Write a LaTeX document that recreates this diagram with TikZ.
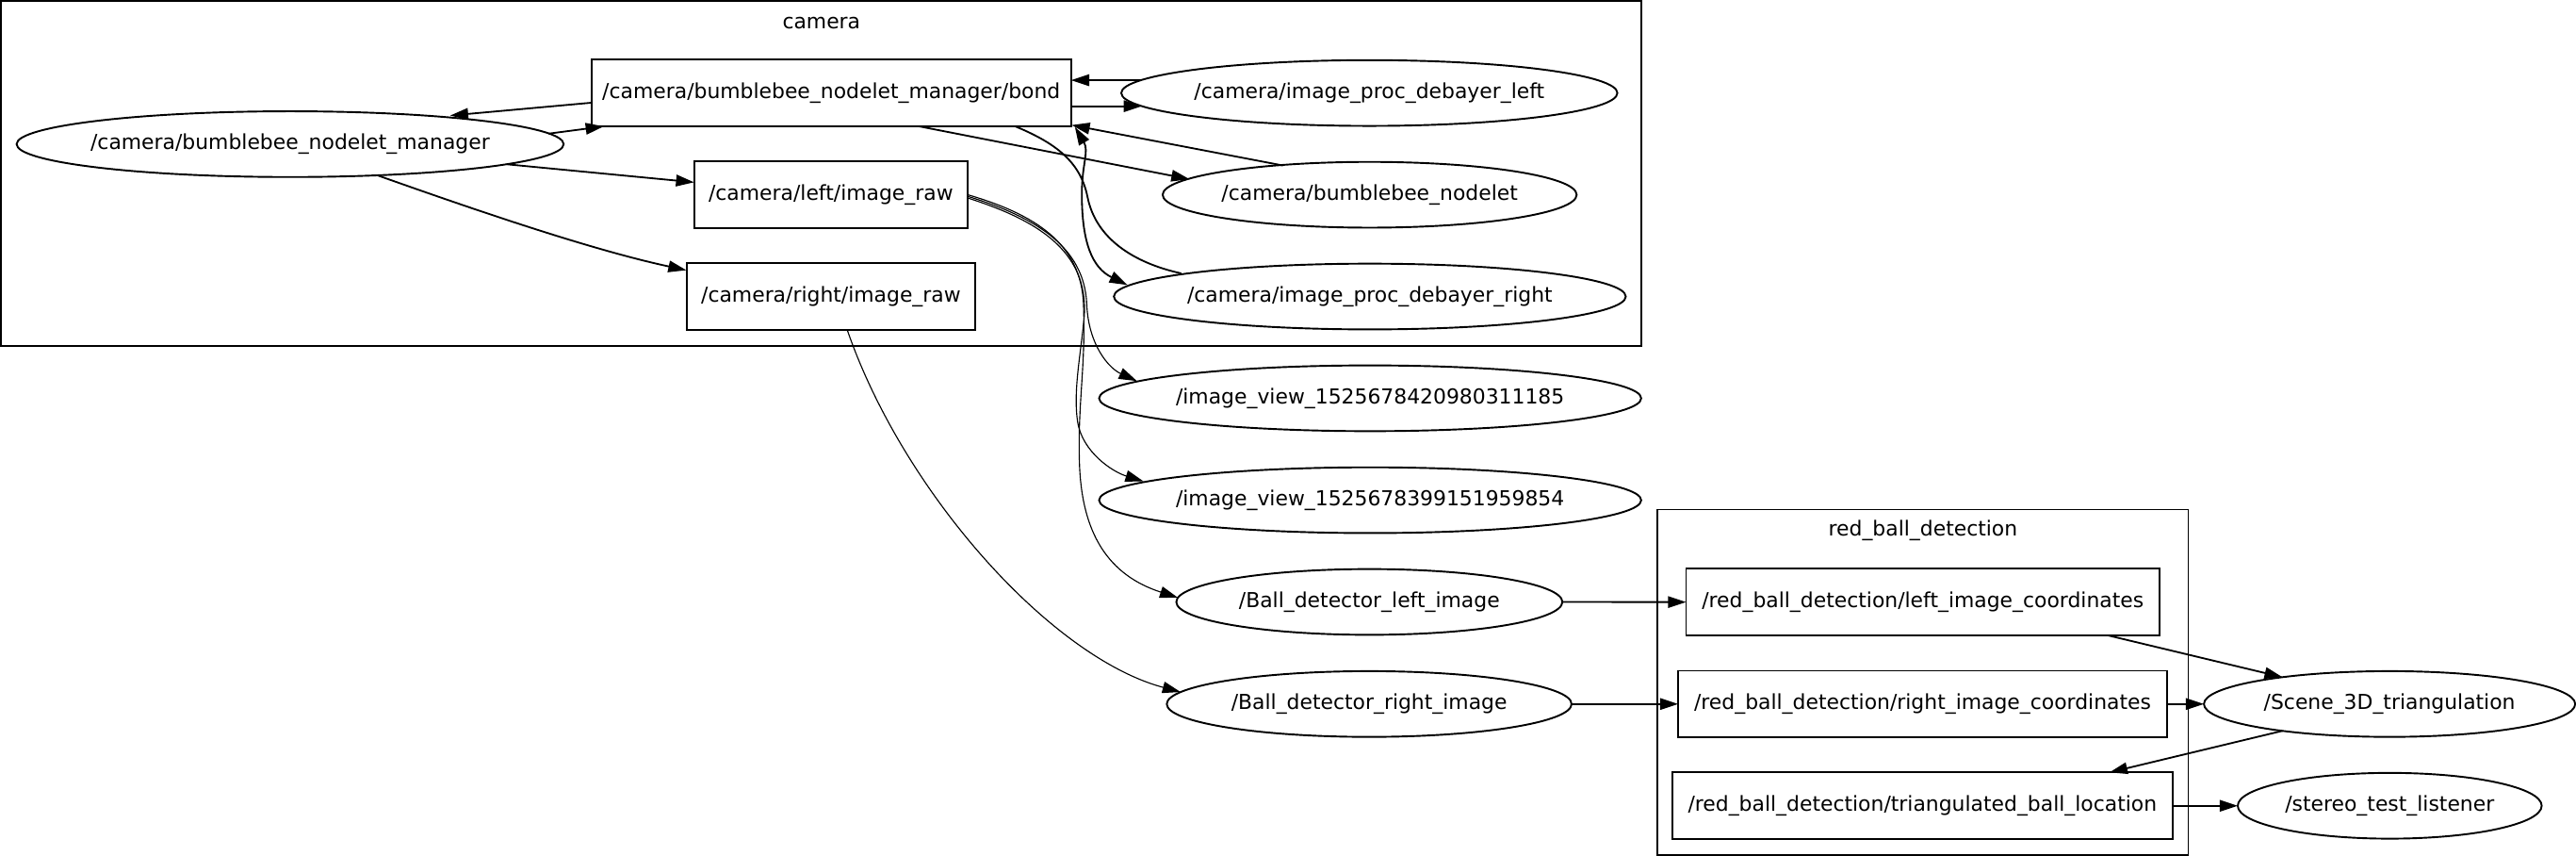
\documentclass[tikz,border=0pt]{standalone}
\usepackage{fontspec}
\setmainfont{DejaVu Sans}
\usetikzlibrary{shapes.geometric,arrows.meta,calc}
\begin{document}
\begin{tikzpicture}[x=1pt,y=-1pt,
  font=\fontsize{12.55pt}{15pt}\selectfont,
  topic/.style={draw, rectangle, line width=1.1pt, minimum height=40.5pt, inner sep=0pt},
  gnode/.style={draw, ellipse, line width=1.1pt, minimum height=40pt, inner sep=0pt},
  cluster/.style={draw, rectangle, line width=1.1pt, inner sep=0pt},
  clabel/.style={inner sep=0pt},
  tip/.tip={Triangle[length=11pt,width=7pt]},
  edge/.style={line width=1.05pt, -tip},
  thinedge/.style={line width=0.65pt, -tip},
  plainedge/.style={line width=1.05pt},
]
\useasboundingbox (0,0) rectangle (1568,520.7);

% clusters
\node[cluster, minimum width=998.3pt, minimum height=209.6pt] (camcl) at (499.85,105.5) {};
\node[clabel] (camlbl) at (500,14.3) {camera};
\node[cluster, minimum width=323.3pt, minimum height=210pt] (rbcl) at (1170.35,415) {};
\node[clabel] (rblbl) at (1170.5,323) {red\_ball\_detection};

% nodes
\node[gnode, minimum width=333pt] (mgr) at (176.6,87.7) {\makebox[0pt]{/camera/bumblebee\_nodelet\_manager}};
\node[topic, minimum width=292pt] (bond) at (506,56.6) {\makebox[0pt]{/camera/bumblebee\_nodelet\_manager/bond}};
\node[topic, minimum width=166.5pt] (lir) at (505.75,118.5) {\makebox[0pt]{/camera/left/image\_raw}};
\node[topic, minimum width=175.6pt] (rir) at (505.8,180.4) {\makebox[0pt]{/camera/right/image\_raw}};
\node[gnode, minimum width=302pt] (dbl) at (833.5,56.6) {\makebox[0pt]{/camera/image\_proc\_debayer\_left}};
\node[gnode, minimum width=252pt] (bbn) at (833.7,118.5) {\makebox[0pt]{/camera/bumblebee\_nodelet}};
\node[gnode, minimum width=311.6pt] (dbr) at (833.8,180.4) {\makebox[0pt]{/camera/image\_proc\_debayer\_right}};
\node[gnode, minimum width=330pt] (iv1) at (834,242.3) {\makebox[0pt]{/image\_view\_1525678420980311185}};
\node[gnode, minimum width=330pt] (iv2) at (834,304.3) {\makebox[0pt]{/image\_view\_1525678399151959854}};
\node[gnode, minimum width=235pt] (bdl) at (833.5,366.2) {\makebox[0pt]{/Ball\_detector\_left\_image}};
\node[gnode, minimum width=246.4pt] (bdr) at (833.4,428.3) {\makebox[0pt]{/Ball\_detector\_right\_image}};
\node[topic, minimum width=288.2pt] (lc) at (1170.4,366.3) {\makebox[0pt]{/red\_ball\_detection/left\_image\_coordinates}};
\node[topic, minimum width=297.5pt] (rc) at (1170.25,428.3) {\makebox[0pt]{/red\_ball\_detection/right\_image\_coordinates}};
\node[topic, minimum width=304.7pt] (tri) at (1170.15,490.2) {\makebox[0pt]{/red\_ball\_detection/triangulated\_ball\_location}};
\node[gnode, minimum width=226pt] (scene) at (1454.5,428.3) {\makebox[0pt]{/Scene\_3D\_triangulation}};
\node[gnode, minimum width=185pt] (stereo) at (1454.6,490.2) {\makebox[0pt]{/stereo\_test\_listener}};

% edges inside camera
\draw[edge] ($(bond)+(-146,5.9)$) -- ($(mgr)+(97.4,-17.4)$);
\draw[edge] ($(mgr)+(157.4,-6.4)$) -- ($(bond)+(-138.5,20.3)$);
\draw[edge] ($(dbl)+(-138.5,-7.8)$) -- ($(bond)+(146,-7.8)$);
\draw[edge] ($(bond)+(146,8)$) -- ($(dbl)+(-138.5,8)$);
\draw[edge] ($(bond)+(53.6,20.3)$) -- ($(bbn)+(-109.7,-9.5)$);
\draw[edge] ($(bbn)+(-52.7,-17.8)$) -- ($(bond)+(146.3,19.5)$);
\draw[edge] ($(mgr)+(132.4,12.3)$) -- ($(lir)+(-83.25,-7.6)$);
\draw[edge] ($(mgr)+(53.8,19.2)$) .. controls (290,128) and (360,152) .. ($(rir)+(-88,-16)$);
\draw[edge, tip-tip] ($(bond)+(148.3,20.7)$) .. controls (663,92) and (658.5,100) .. (658.5,118)
   .. controls (658.5,148) and (665,163) .. ($(dbr)+(-147.5,-7)$);
\draw[plainedge] ($(bond)+(112,20.3)$) .. controls (645,88) and (658,100) .. (662,120)
   .. controls (667,145) and (690,160) .. ($(dbr)+(-114.8,-14.1)$);

% image_raw fan-out
\draw[thinedge] ($(lir)+(83.45,1)$) .. controls (630,132) and (660,150) .. (661.5,185)
   .. controls (662.5,210) and (675,224) .. ($(iv1)+(-142,-10.5)$);
\draw[thinedge] ($(lir)+(83.45,2)$) .. controls (630,133.5) and (662.5,152) .. (660,192)
   .. controls (658,215) and (653,238) .. (656,257)
   .. controls (659,275) and (677,287) .. ($(iv2)+(-138,-11.5)$);
\draw[thinedge] ($(lir)+(83.45,0)$) .. controls (630,130.5) and (658,148) .. (659.5,185)
   .. controls (661,222) and (656,245) .. (657,280)
   .. controls (658,325) and (675,350) .. ($(bdl)+(-116.5,-2.6)$);
\draw[thinedge] ($(rir)+(9.9,20.3)$) .. controls (550,300) and (640,400) .. ($(bdr)+(-114.8,-7.3)$);

% red ball detection chain
\draw[edge] ($(bdl)+(117.5,0)$) -- ($(lc)+(-144.1,0)$);
\draw[edge] ($(bdr)+(123.2,0)$) -- ($(rc)+(-148.75,0)$);
\draw[edge] ($(lc)+(112.9,20.3)$) -- ($(scene)+(-65.1,-16.3)$);
\draw[edge] ($(rc)+(148.75,0)$) -- ($(scene)+(-113,0)$);
\draw[edge] ($(scene)+(-65.1,16.3)$) -- ($(tri)+(113.85,-20.3)$);
\draw[edge] ($(tri)+(152.35,0)$) -- ($(stereo)+(-92.5,0)$);
\end{tikzpicture}
\end{document}
